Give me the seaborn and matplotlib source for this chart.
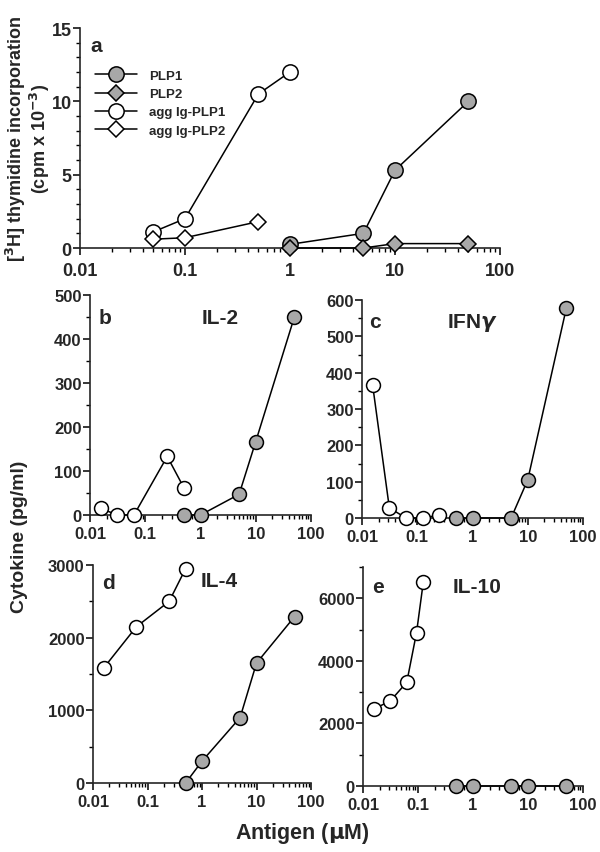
import numpy as np
import pandas as pd
import matplotlib
matplotlib.use("Agg")
import matplotlib.pyplot as plt
import seaborn as sns
from matplotlib.ticker import FixedLocator, LogLocator, MultipleLocator, NullFormatter


# Panel a: [3H] thymidine incorporation (cpm x 10^-3)
a_plp1_x = [1, 5, 10, 50]
a_plp1_y = [0.25, 1.0, 5.3, 10.0]
a_plp2_x = [1, 5, 10, 50]
a_plp2_y = [0.0, 0.0, 0.3, 0.3]
a_agg1_x = [0.05, 0.1, 0.5, 1]
a_agg1_y = [1.1, 2.0, 10.5, 12.0]
a_agg2_x = [0.05, 0.1, 0.5]
a_agg2_y = [0.6, 0.7, 1.8]

# Panel b: IL-2
b_agg_x = [0.0156, 0.03125, 0.0625, 0.25, 0.5]
b_agg_y = [15, 0, 0, 133, 62]
b_plp_x = [0.5, 1, 5, 10, 50]
b_plp_y = [0, 0, 47, 167, 450]

# Panel c: IFNgamma
c_agg_x = [0.0156, 0.03125, 0.0625, 0.125, 0.25]
c_agg_y = [365, 28, 0, 0, 8]
c_plp_x = [0.5, 1, 5, 10, 50]
c_plp_y = [0, 0, 0, 105, 578]

# Panel d: IL-4
d_agg_x = [0.0156, 0.0625, 0.25, 0.5]
d_agg_y = [1580, 2150, 2500, 2950]
d_plp_x = [0.5, 1, 5, 10, 50]
d_plp_y = [0, 300, 900, 1650, 2290]

# Panel e: IL-10
e_agg_x = [0.0156, 0.03125, 0.0625, 0.094, 0.125]
e_agg_y = [2460, 2716, 3316, 4900, 6524]
e_plp_x = [0.5, 1, 5, 10, 50]
e_plp_y = [0, 0, 0, 0, 0]

xticks = [0.01, 0.1, 1, 10, 100]
xticklabels = ["0.01", "0.1", "1", "10", "100"]

sns.set_theme(style="ticks")
plt.rcParams['font.family'] = ['Liberation Sans', 'DejaVu Sans']
plt.rcParams['font.weight'] = 'bold'
plt.rcParams['axes.linewidth'] = 1.2

GRAY = '#a8a8a8'
W = 600
H = 853
fig = plt.figure(figsize=(6, 8.53), dpi=100)


def make_ax(left, right, top, bottom):
    return fig.add_axes([left / W, 1 - bottom / H, (right - left) / W, (bottom - top) / H])


def draw(ax, x, y, marker, face, ms, label=None):
    df = pd.DataFrame({'x': x, 'y': y})
    sns.lineplot(data=df, x='x', y='y', ax=ax, color='black', lw=1.1, marker=marker,
                 markerfacecolor=face, markeredgecolor='black', markeredgewidth=1.1,
                 markersize=ms, clip_on=False, zorder=5, label=label, legend=False)


def style(ax, ymax, major, minor, fs, xpad=3):
    ax.set_xscale('log')
    ax.set_xlim(0.01, 100)
    ax.set_ylim(0, ymax)
    ax.xaxis.set_major_locator(FixedLocator(xticks))
    ax.set_xticklabels(xticklabels)
    ax.xaxis.set_minor_locator(LogLocator(base=10, subs=np.arange(2, 10)))
    ax.xaxis.set_minor_formatter(NullFormatter())
    ax.yaxis.set_major_locator(MultipleLocator(major))
    ax.yaxis.set_minor_locator(MultipleLocator(minor))
    ax.tick_params(which='major', length=5, width=1.1, labelsize=fs, color='black')
    ax.tick_params(which='minor', length=3, width=1.0, color='black')
    ax.tick_params(axis='y', which='major', pad=1)
    ax.tick_params(axis='x', which='major', pad=xpad)
    for lab in ax.get_xticklabels() + ax.get_yticklabels():
        lab.set_fontweight('bold')
    ax.set_xlabel('')
    ax.set_ylabel('')
    sns.despine(ax=ax)


# Panel a
ax_a = make_ax(80, 500, 29, 249)
draw(ax_a, a_plp1_x, a_plp1_y, 'o', GRAY, 11, 'PLP1')
draw(ax_a, a_plp2_x, a_plp2_y, 'D', GRAY, 8.5, 'PLP2')
draw(ax_a, a_agg1_x, a_agg1_y, 'o', 'white', 11, 'agg Ig-PLP1')
draw(ax_a, a_agg2_x, a_agg2_y, 'D', 'white', 8.5, 'agg Ig-PLP2')
style(ax_a, 15, 5, 1, 13, xpad=5)
ax_a.legend(loc='upper left', bbox_to_anchor=(0.02, 0.84), frameon=False,
            handlelength=3.2, handletextpad=0.9, labelspacing=0.45, borderpad=0,
            prop={'weight': 'bold', 'size': 9.5})
ax_a.text(0.025, 0.92, 'a', transform=ax_a.transAxes, fontsize=15, fontweight='bold', va='center')
fig.text(28 / W, 1 - 139 / H,
         '[$\\mathbf{^3}$H] thymidine incorporation\n(cpm x 10$\\mathbf{^{-3}}$)',
         rotation=90, fontsize=13, fontweight='bold', ha='center', va='center',
         multialignment='center', linespacing=1.0)

# Panel b
ax_b = make_ax(90, 311, 296, 516)
draw(ax_b, b_agg_x, b_agg_y, 'o', 'white', 10)
draw(ax_b, b_plp_x, b_plp_y, 'o', GRAY, 10)
style(ax_b, 500, 100, 50, 12)
ax_b.text(0.04, 0.9, 'b', transform=ax_b.transAxes, fontsize=15, fontweight='bold', va='center')
ax_b.text(0.59, 0.9, 'IL-2', transform=ax_b.transAxes, fontsize=15, fontweight='bold',
          va='center', ha='center')

# Panel c
ax_c = make_ax(362, 583, 301, 519)
draw(ax_c, c_agg_x, c_agg_y, 'o', 'white', 10)
draw(ax_c, c_plp_x, c_plp_y, 'o', GRAY, 10)
style(ax_c, 600, 100, 50, 12)
ax_c.text(0.03, 0.9, 'c', transform=ax_c.transAxes, fontsize=15, fontweight='bold', va='center')
ax_c.text(0.5, 0.9, 'IFN$\\gamma$', transform=ax_c.transAxes, fontsize=15, fontweight='bold',
          va='center', ha='center')

# Panel d
ax_d = make_ax(93, 311, 566, 784)
draw(ax_d, d_agg_x, d_agg_y, 'o', 'white', 10)
draw(ax_d, d_plp_x, d_plp_y, 'o', GRAY, 10)
style(ax_d, 3000, 1000, 500, 12)
ax_d.text(0.04, 0.92, 'd', transform=ax_d.transAxes, fontsize=15, fontweight='bold', va='center')
ax_d.text(0.58, 0.93, 'IL-4', transform=ax_d.transAxes, fontsize=15, fontweight='bold',
          va='center', ha='center')

# Panel e
ax_e = make_ax(363, 583, 568, 787)
draw(ax_e, e_agg_x, e_agg_y, 'o', 'white', 10)
draw(ax_e, e_plp_x, e_plp_y, 'o', GRAY, 10)
style(ax_e, 7000, 2000, 1000, 12)
ax_e.text(0.04, 0.91, 'e', transform=ax_e.transAxes, fontsize=15, fontweight='bold', va='center')
ax_e.text(0.52, 0.91, 'IL-10', transform=ax_e.transAxes, fontsize=15, fontweight='bold',
          va='center', ha='center')

fig.text(20 / W, 1 - 537 / H, 'Cytokine (pg/ml)', rotation=90, fontsize=14, fontweight='bold',
         ha='center', va='center')
fig.text(302 / W, 1 - 834 / H, 'Antigen ($\\mathbf{\\mu}$M)', fontsize=15.5, fontweight='bold',
         ha='center', va='center')

fig.savefig('out.png', dpi=100)
